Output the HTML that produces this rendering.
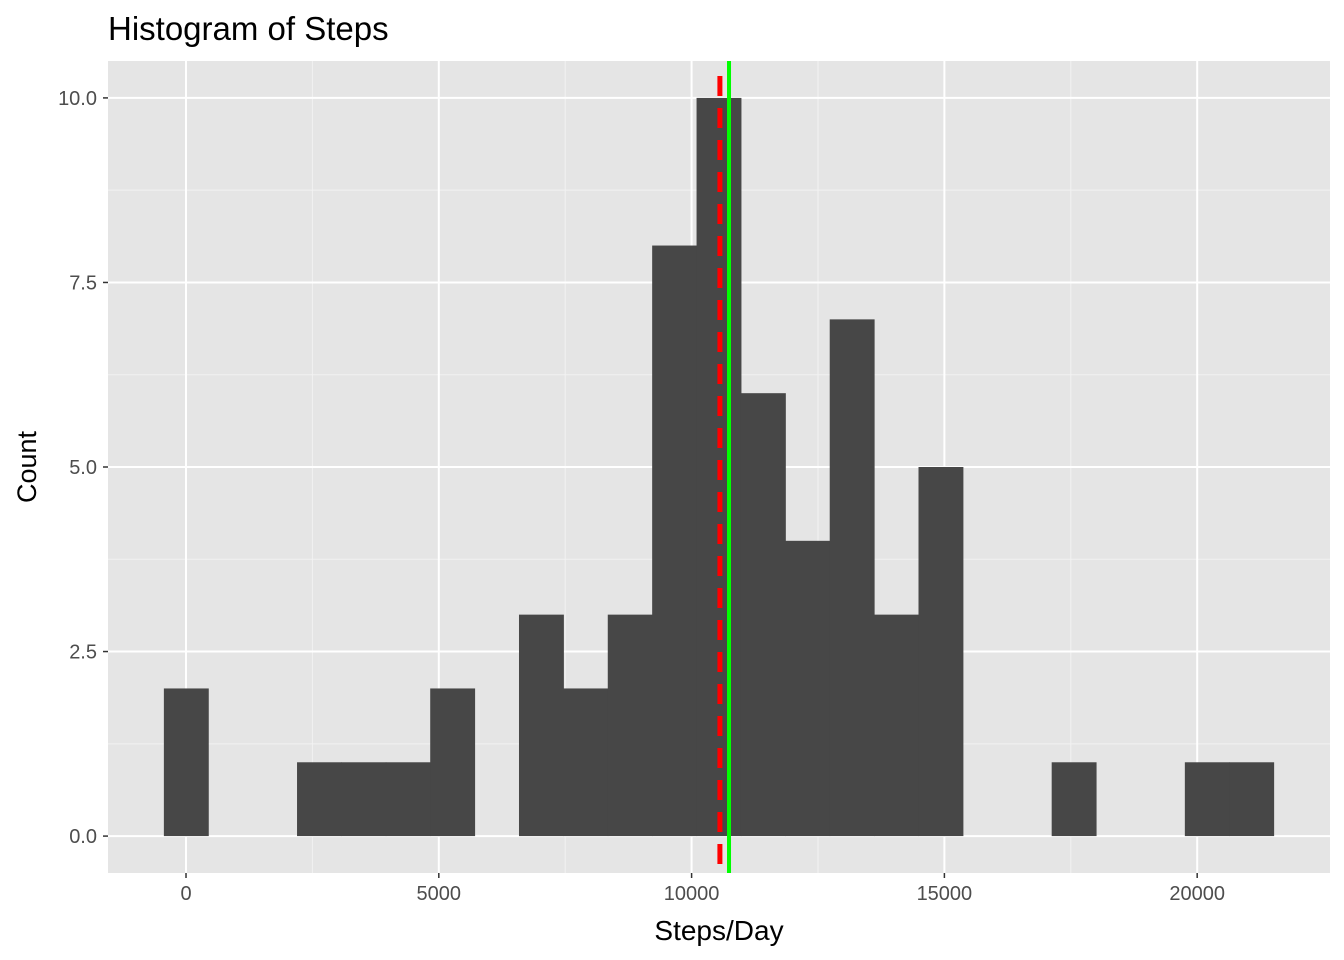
<!DOCTYPE html>
<html><head><meta charset="utf-8"><style>
body{margin:0;background:#fff;}
svg{display:block;font-family:"Liberation Sans",Arial,sans-serif;}
</style></head><body>
<svg id="chart" width="1344" height="960">
<text x="108" y="40" font-size="33" fill="#000">Histogram of Steps</text>
<rect x="108" y="61" width="1222" height="812" fill="#e5e5e5"/>
<g id="grid"></g><g id="bars"></g><g id="lines"></g><g id="axes"></g>
<text x="719" y="940" font-size="28" text-anchor="middle" fill="#000">Steps/Day</text>
<text transform="translate(36,467) rotate(-90)" font-size="27" text-anchor="middle" fill="#000">Count</text>
</svg>
<script>
const binStart = -438;
const binWidth = 878;
const counts = [2,0,0,1,1,1,2,0,3,2,3,8,10,6,4,7,3,5,0,0,1,0,0,1,1];
const xTicks = [0,5000,10000,15000,20000];
const yTicks = [0,2.5,5,7.5,10];
const yTickLabels = ["0.0","2.5","5.0","7.5","10.0"];
const meanVal = 10560;
const medianVal = 10740;
const NS="http://www.w3.org/2000/svg";
const X0=108,X1=1330,Y0=873,Y1=61;
const xmin=-1543,xmax=22627,ymin=-0.5,ymax=10.5;
const sx=v=>X0+(v-xmin)/(xmax-xmin)*(X1-X0);
const sy=v=>Y0-(v-ymin)/(ymax-ymin)*(Y0-Y1);
function mk(tag,attrs,parent){const e=document.createElementNS(NS,tag);for(const k in attrs)e.setAttribute(k,attrs[k]);document.getElementById(parent).appendChild(e);return e;}
for(let i=0;i<xTicks.length-1;i++){const m=(xTicks[i]+xTicks[i+1])/2;const l=mk('line',{x1:sx(m),x2:sx(m),y1:Y1,y2:Y0,stroke:'#f2f2f2','stroke-width':1},'grid');

}
for(let i=0;i<yTicks.length-1;i++){const m=(yTicks[i]+yTicks[i+1])/2;const l=mk('line',{x1:X0,x2:X1,y1:sy(m),y2:sy(m),stroke:'#f2f2f2','stroke-width':1},'grid');

}
xTicks.forEach(t=>{const l=mk('line',{x1:sx(t),x2:sx(t),y1:Y1,y2:Y0,stroke:'#fff','stroke-width':2},'grid');


const k=mk('line',{x1:sx(t),x2:sx(t),y1:Y0,y2:Y0+5,stroke:'#333','stroke-width':1.5},'axes');


const tx=mk('text',{x:sx(t),y:Y0+27,'font-size':20,fill:'#4d4d4d','text-anchor':'middle'},'axes');tx.textContent=t;

});
yTicks.forEach((t,i)=>{const l=mk('line',{x1:X0,x2:X1,y1:sy(t),y2:sy(t),stroke:'#fff','stroke-width':2},'grid');


const k=mk('line',{x1:X0-5,x2:X0,y1:sy(t),y2:sy(t),stroke:'#333','stroke-width':1.5},'axes');


const tx=mk('text',{x:X0-11,y:sy(t)+7,'font-size':20,fill:'#4d4d4d','text-anchor':'end'},'axes');tx.textContent=yTickLabels[i];

});
counts.forEach((c,i)=>{if(c<=0)return;const a=sx(binStart+i*binWidth),b=sx(binStart+(i+1)*binWidth);
const r=mk('rect',{x:a,y:sy(c),width:b-a+0.5,height:sy(0)-sy(c),fill:'#474747'},'bars');

});
const ml=mk('line',{x1:sx(meanVal),x2:sx(meanVal),y1:76,y2:Y0,stroke:'#ff0000','stroke-width':5,'stroke-dasharray':'20 12'},'lines');


const dl=mk('line',{x1:sx(medianVal),x2:sx(medianVal),y1:Y1,y2:Y0,stroke:'#00ff00','stroke-width':4},'lines');


</script>
</body></html>
